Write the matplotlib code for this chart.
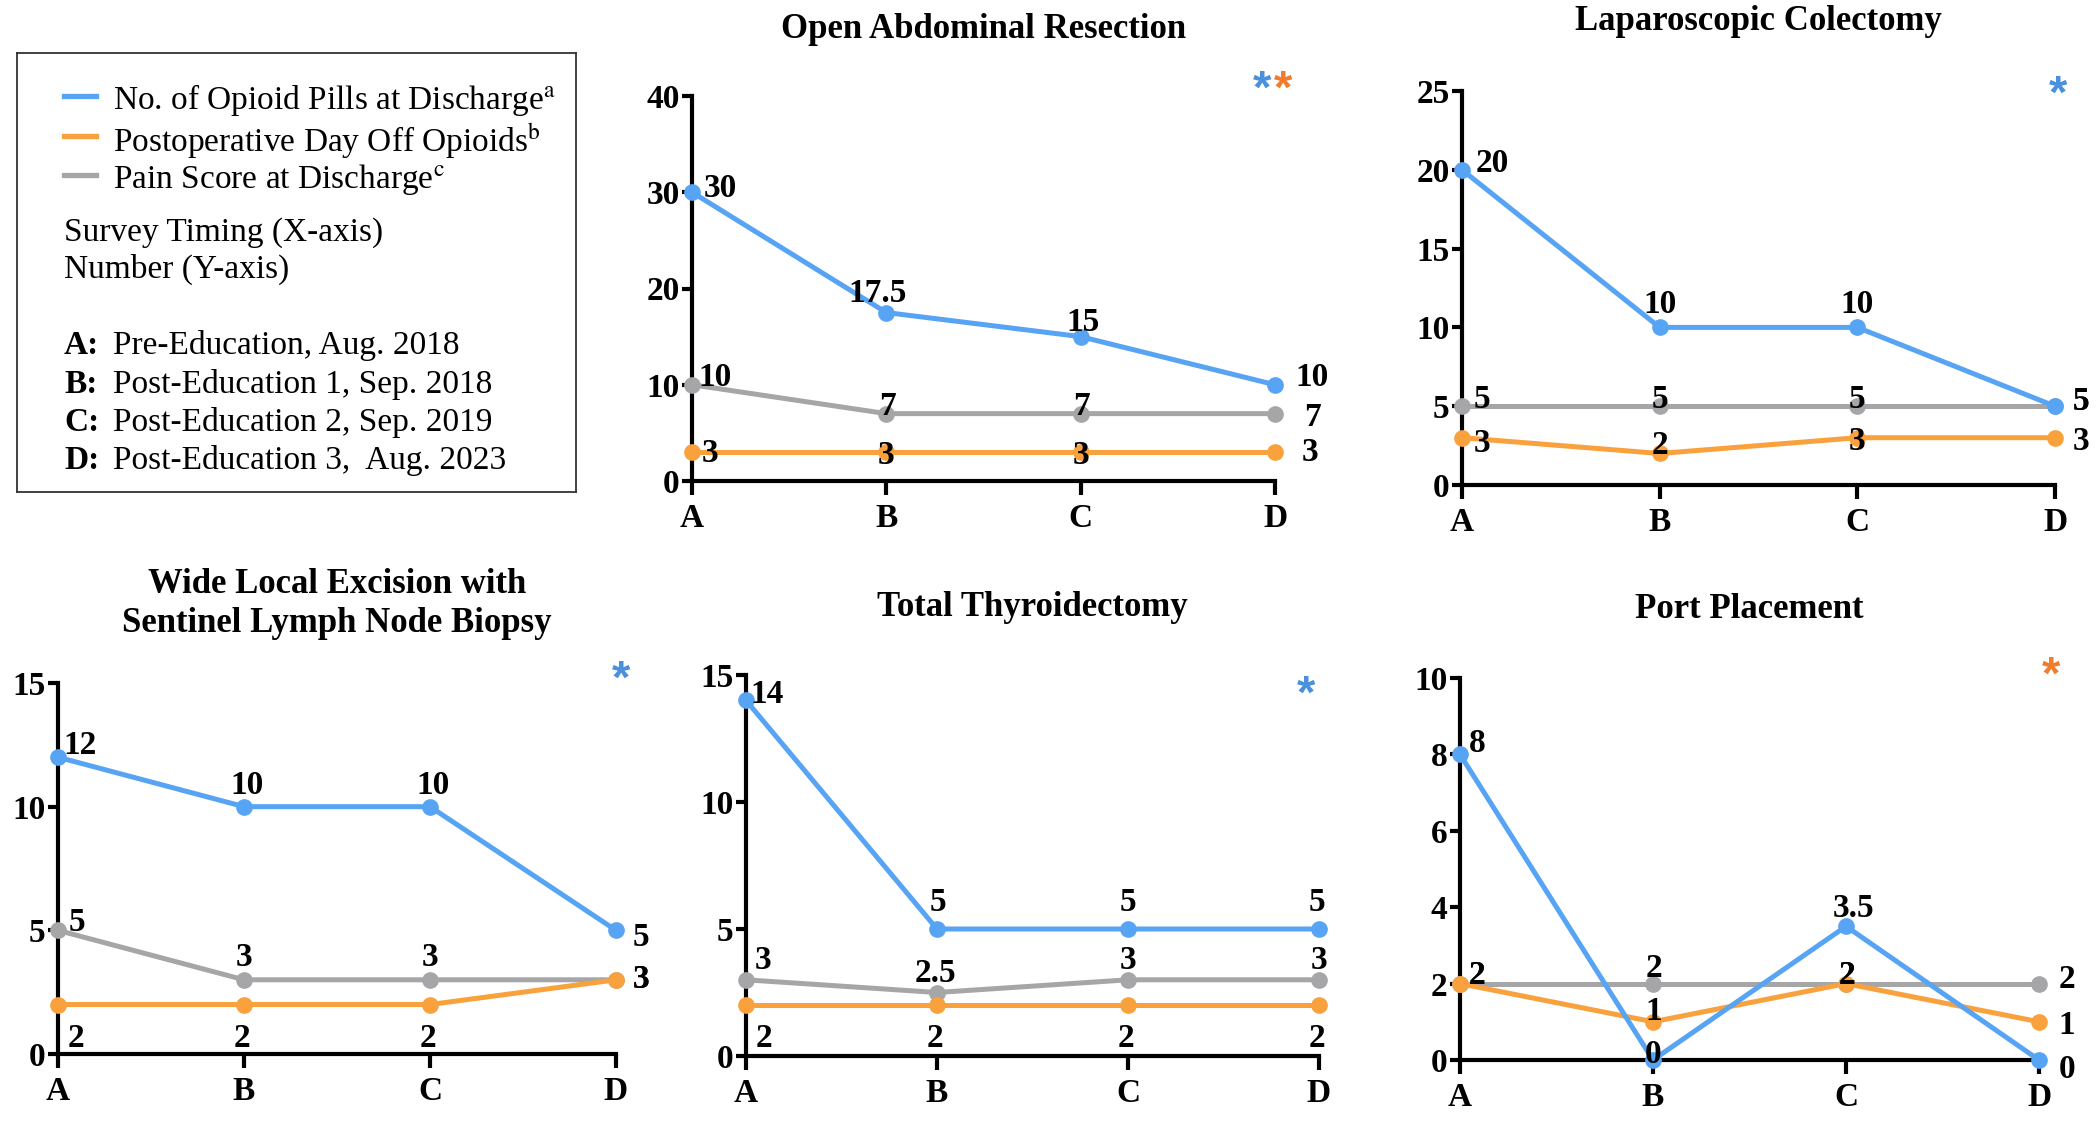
import matplotlib
matplotlib.use("Agg")
import matplotlib.pyplot as plt

plt.rcParams['font.family'] = ['Liberation Serif', 'DejaVu Serif']
plt.rcParams['mathtext.fontset'] = 'stix'

# ---- data ----
points = ["A", "B", "C", "D"]
series_names = ["No. of Opioid Pills at Discharge", "Postoperative Day Off Opioids",
                "Pain Score at Discharge"]
series_marks = ["a", "b", "c"]

open_pills = [30, 17.5, 15, 10]
open_days = [3, 3, 3, 3]
open_pain = [10, 7, 7, 7]

lap_pills = [20, 10, 10, 5]
lap_days = [3, 2, 3, 3]
lap_pain = [5, 5, 5, 5]

wle_pills = [12, 10, 10, 5]
wle_days = [2, 2, 2, 3]
wle_pain = [5, 3, 3, 3]

thy_pills = [14, 5, 5, 5]
thy_days = [2, 2, 2, 2]
thy_pain = [3, 2.5, 3, 3]

port_pills = [8, 0, 3.5, 0]
port_days = [2, 1, 2, 1]
port_pain = [2, 2, 2, 2]

titles = ["Open Abdominal Resection", "Laparoscopic Colectomy",
          "Wide Local Excision with\nSentinel Lymph Node Biopsy",
          "Total Thyroidectomy", "Port Placement"]
ymax = [40, 25, 15, 15, 10]
ystep = [10, 5, 5, 5, 2]
# which series got a significance star (pills, days)
stars = [("pills", "days"), ("pills",), ("pills",), ("pills",), ("days",)]

timing_notes = ["Survey Timing (X-axis)", "Number (Y-axis)"]
timing_keys = ["A:", "B:", "C:", "D:"]
timing_desc = ["Pre-Education, Aug. 2018", "Post-Education 1, Sep. 2018",
               "Post-Education 2, Sep. 2019", "Post-Education 3,  Aug. 2023"]

# ---- style / layout ----
c_blue = "#58a4f4"
c_orange = "#f9a13c"
c_gray = "#a6a6a8"
c_star_blue = "#4a90dc"
c_star_orange = "#f07c2c"

W, H = 2100, 1123
# axes boxes in pixels: x0, x1, ytop, ybottom
boxes = [(692, 1275, 96, 481), (1462, 2055, 91, 485), (58, 616, 683, 1054),
         (746, 1319, 675, 1056), (1460, 2039, 678, 1060)]
title_off = [67, 70, 79, 67, 68]
star_pos = [(0.978, 1.047), (1.005, 1.02), (1.009, 1.04), (0.977, 0.98), (1.02, 1.037)]

# label offsets (pixels) per panel, per series (pills, days, pain), per point
lab_off = [
    {"pills": [(28, 7), (-9, 23), (2, 18), (37, 11)],
     "days": [(18, 2), (0, 0), (0, 0), (35, 3)],
     "pain": [(23, 11), (1, 11), (1, 11), (37, 0)]},
    {"pills": [(30, 10), (0, 26), (0, 26), (26, 8)],
     "days": [(20, -2), (0, 11), (0, 0), (26, 0)],
     "pain": [(20, 10), (0, 10), (0, 10), (26, 8)]},
    {"pills": [(22, 15), (3, 25), (3, 25), (25, -4)],
     "days": [(18, -30), (-2, -30), (-2, -30), (25, 4)],
     "pain": [(19, 11), (0, 26), (0, 26), (25, 4)]},
    {"pills": [(21, 9), (1, 30), (0, 30), (-2, 30)],
     "days": [(18, -30), (-2, -30), (-2, -30), (-2, -30)],
     "pain": [(17, 23), (-2, 22), (0, 23), (0, 23)]},
    {"pills": [(17, 14), (0, 9), (8, 21), (28, -6)],
     "days": [(17, 12), (1, 14), (1, 12), (28, 0)],
     "pain": [(17, 12), (1, 19), (1, 12), (28, 8)]},
]

panel_data = [
    {"pills": open_pills, "days": open_days, "pain": open_pain},
    {"pills": lap_pills, "days": lap_days, "pain": lap_pain},
    {"pills": wle_pills, "days": wle_days, "pain": wle_pain},
    {"pills": thy_pills, "days": thy_days, "pain": thy_pain},
    {"pills": port_pills, "days": port_days, "pain": port_pain},
]
colors = {"pills": c_blue, "days": c_orange, "pain": c_gray}
star_colors = {"pills": c_star_blue, "days": c_star_orange}
zorders = {"pain": 3, "days": 4, "pills": 5}

fig = plt.figure(figsize=(21, 11.23), dpi=100)
x = list(range(len(points)))

for i, (x0, x1, yt, yb) in enumerate(boxes):
    ax = fig.add_axes([x0 / W, 1 - yb / H, (x1 - x0) / W, (yb - yt) / H])
    for key in ["pain", "days", "pills"]:
        vals = panel_data[i][key]
        ax.plot(x, vals, color=colors[key], lw=3.6, marker='o', ms=11,
                clip_on=False, zorder=zorders[key])
        for j, v in enumerate(vals):
            dx, dy = lab_off[i][key][j]
            ax.annotate(f"{v:g}", (x[j], v), xytext=(dx, dy), textcoords='offset pixels',
                        ha='center', va='center_baseline', fontsize=24,
                        fontweight='bold', zorder=10, annotation_clip=False)
    ax.set_xlim(0, 3)
    ax.set_ylim(0, ymax[i])
    ax.set_xticks(x)
    ax.set_xticklabels(points)
    ax.set_yticks(list(range(0, ymax[i] + 1, ystep[i])))
    for s in ["top", "right"]:
        ax.spines[s].set_visible(False)
    for s in ["left", "bottom"]:
        ax.spines[s].set_linewidth(3)
    ax.tick_params(axis='y', length=7, width=3, pad=2, labelsize=24)
    ax.tick_params(axis='x', length=10, width=3, pad=6, labelsize=24)
    for lab in ax.get_xticklabels() + ax.get_yticklabels():
        lab.set_fontweight('bold')
    ax.annotate(titles[i], (0.5, 1), xycoords='axes fraction', xytext=(0, title_off[i]),
                textcoords='offset pixels', ha='center', va='center',
                fontsize=25, fontweight='bold', linespacing=1.25)
    sx, sy = star_pos[i]
    for k, key in enumerate(stars[i]):
        ax.annotate("*", (sx, sy), xycoords='axes fraction', xytext=(k * 21, -13),
                    textcoords='offset pixels', ha='center', va='center',
                    fontsize=34, fontweight='bold', color=star_colors[key],
                    family='Liberation Sans', annotation_clip=False)

# ---- legend box ----
lx0, lx1, lyt, lyb = 17, 576, 53, 492
leg = fig.add_axes([lx0 / W, 1 - lyb / H, (lx1 - lx0) / W, (lyb - lyt) / H])
leg.set_xlim(lx0, lx1)
leg.set_ylim(lyb, lyt)
leg.set_xticks([])
leg.set_yticks([])
for s in leg.spines.values():
    s.set_linewidth(1.3)
    s.set_color("#333333")

rows = [96, 136, 175]
for k, key in enumerate(["pills", "days", "pain"]):
    leg.plot([64, 96], [rows[k], rows[k]], color=colors[key], lw=3.8)
    leg.text(113, rows[k], series_names[k] + r"$^{\mathrm{" + series_marks[k] + "}}$",
             ha='left', va='center_baseline', fontsize=24)
for k, txt in enumerate(timing_notes):
    leg.text(64, [229, 266][k], txt, ha='left', va='center_baseline', fontsize=24)
for k in range(len(timing_keys)):
    yk = [342, 381, 419, 457][k]
    leg.text(64, yk, timing_keys[k], ha='left', va='center_baseline', fontsize=24,
             fontweight='bold')
    leg.text(113, yk, timing_desc[k], ha='left', va='center_baseline', fontsize=24)

fig.savefig("out.png", dpi=100)
